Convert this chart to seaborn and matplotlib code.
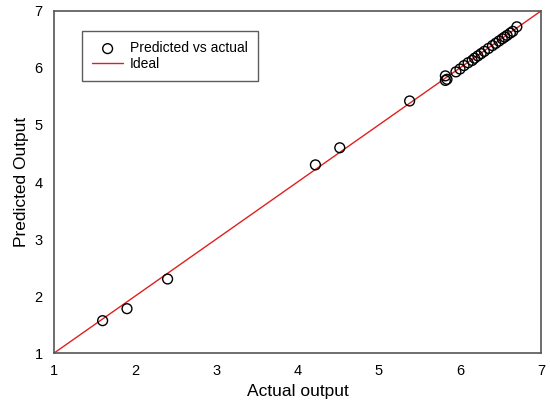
import numpy as np
import pandas as pd
import matplotlib
matplotlib.use("Agg")
import matplotlib.pyplot as plt
import seaborn as sns

# Actual vs predicted values
actual = [1.60, 1.90, 2.40, 4.22, 4.52, 5.38, 5.82, 5.82, 5.84,
          5.95, 6.00, 6.05, 6.10, 6.15, 6.18, 6.22, 6.26, 6.30, 6.35,
          6.40, 6.44, 6.48, 6.52, 6.55, 6.58, 6.62, 6.65, 6.70]
predicted = [1.57, 1.78, 2.30, 4.30, 4.60, 5.42, 5.78, 5.86, 5.80,
             5.93, 5.98, 6.04, 6.09, 6.13, 6.17, 6.21, 6.25, 6.29, 6.34,
             6.39, 6.43, 6.47, 6.51, 6.54, 6.57, 6.61, 6.64, 6.72]
ideal = [1, 7]
ticks = [1, 2, 3, 4, 5, 6, 7]

df = pd.DataFrame({"Actual": actual, "Predicted": predicted})

sns.set_style("white")
plt.rcParams["font.family"] = ["Liberation Sans", "DejaVu Sans"]

fig = plt.figure(figsize=(5.5, 4.16), dpi=100)
ax = fig.add_axes([0.098, 0.151, 0.886, 0.823])

sns.lineplot(x=ideal, y=ideal, color="#e02020", linewidth=1.0, ax=ax, label="Ideal", zorder=2)
sns.scatterplot(data=df, x="Actual", y="Predicted", ax=ax, s=50, marker="o",
                facecolor="none", edgecolor="black", linewidth=1.0,
                label="Predicted vs actual", zorder=3)

ax.set_xlim(1, 7)
ax.set_ylim(1, 7)
ax.set_xticks(ticks)
ax.set_yticks(ticks)
ax.tick_params(direction="in", length=4, width=1, color="#555555", labelcolor="black",
               labelsize=10.5, pad=8)
for sp in ax.spines.values():
    sp.set_color("#555555")
    sp.set_linewidth(1.2)

ax.set_xlabel("Actual output", fontsize=12.5, color="black")
ax.set_ylabel("Predicted Output", fontsize=12.5, color="black")

handles, labels = ax.get_legend_handles_labels()
order = [labels.index("Predicted vs actual"), labels.index("Ideal")]
leg = ax.legend([handles[i] for i in order], [labels[i] for i in order],
                loc="upper left", bbox_to_anchor=(0.0575, 0.9415), fontsize=10,
                frameon=True, fancybox=False, edgecolor="#333333",
                borderpad=0.75, labelspacing=0.1, handlelength=2.2, handletextpad=0.5,
                borderaxespad=0)
leg.get_frame().set_linewidth(1.0)
for t in leg.get_texts():
    t.set_color("black")

fig.savefig("out.png", dpi=100)
